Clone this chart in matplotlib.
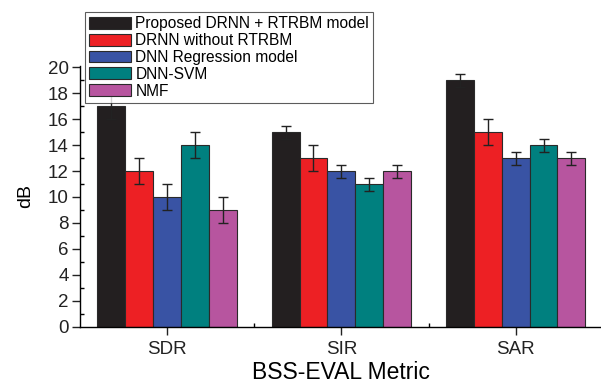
import matplotlib

matplotlib.use("Agg")
import matplotlib.pyplot as plt
import numpy as np

plt.rcParams["font.family"] = ["Liberation Sans", "DejaVu Sans"]

metrics = ["SDR", "SIR", "SAR"]
models = [
    "Proposed DRNN + RTRBM model",
    "DRNN without RTRBM",
    "DNN Regression model",
    "DNN-SVM",
    "NMF",
]
# rows follow models, columns follow metrics
means = [
    [17, 15, 19],
    [12, 13, 15],
    [10, 12, 13],
    [14, 11, 14],
    [9, 12, 13],
]
errors = [
    [1.0, 0.5, 0.5],
    [1.0, 1.0, 1.0],
    [1.0, 0.5, 0.5],
    [1.0, 0.5, 0.5],
    [1.0, 0.5, 0.5],
]
colors = ["#231f20", "#ed2024", "#3953a4", "#00807f", "#b7559f"]

fig = plt.figure(figsize=(6.01, 3.85), dpi=100)
ax = fig.add_axes([0.133, 0.151, 0.87, 0.678])

x = np.arange(len(metrics))
width = 0.16
handles = []
for i, (name, vals, errs, col) in enumerate(zip(models, means, errors, colors)):
    pos = x + (i - 2) * width
    bars = ax.bar(pos, vals, width, color=col, edgecolor="#2a2a2a",
                  linewidth=0.8, label=name)
    ax.errorbar(pos, vals, yerr=errs, fmt="none", ecolor="#222222",
                elinewidth=1.0, capsize=3.5, capthick=1.0)
    handles.append(bars)

ax.set_xlim(-0.5, 2.5)
ax.set_ylim(0, 20.1)
ax.set_yticks(range(0, 21, 2))
ax.set_yticks(range(1, 21, 2), minor=True)
ax.set_xticks(x)
ax.set_xticklabels(metrics)
ax.set_xticks([0.5, 1.5], minor=True)

for side in ("top", "right"):
    ax.spines[side].set_visible(False)
ax.spines["left"].set_linewidth(1.0)
ax.spines["bottom"].set_linewidth(1.0)

ax.tick_params(axis="both", which="major", direction="out", length=6,
               width=1.0, labelsize=13.5, colors="#222222")
ax.tick_params(axis="y", which="major", pad=2)
ax.tick_params(axis="both", which="minor", direction="in", length=3, width=1.0)
ax.tick_params(axis="x", which="major", pad=4)

ax.set_ylabel("dB", fontsize=14, labelpad=10)
ax.set_xlabel("BSS-EVAL Metric", fontsize=16.5, labelpad=2)

leg = fig.legend(handles=handles, loc="upper left",
                 bbox_to_anchor=(0.141, 0.968), fontsize=11.2,
                 frameon=True, fancybox=False, borderpad=0.25,
                 labelspacing=0.12, handlelength=2.7, handleheight=0.8,
                 handletextpad=0.3, borderaxespad=0)
leg.get_frame().set_edgecolor("#333333")
leg.get_frame().set_linewidth(0.8)

fig.savefig("out.png", dpi=100)
